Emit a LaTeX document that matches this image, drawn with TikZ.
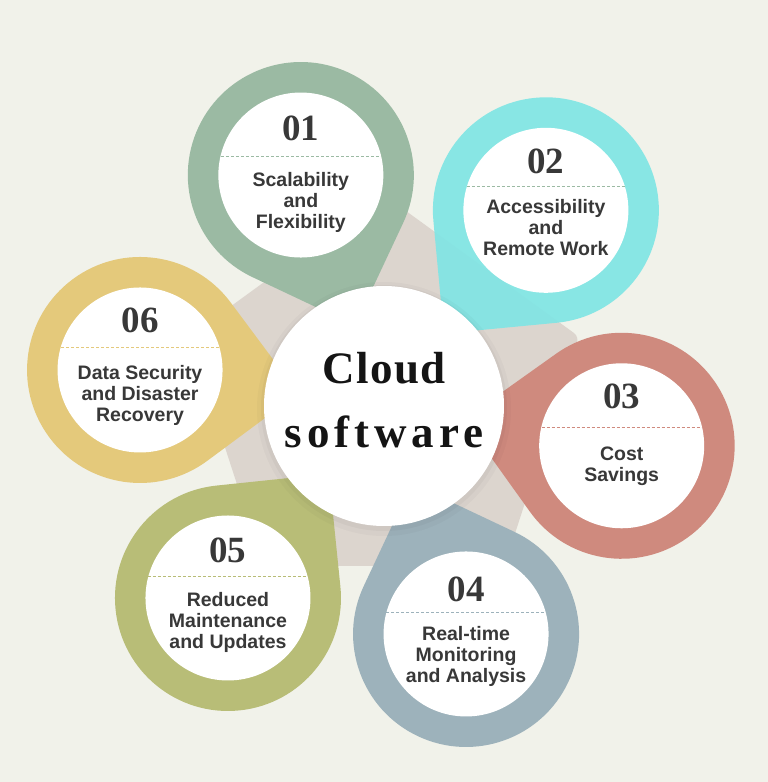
\documentclass[tikz,border=0pt]{standalone}
\usepackage{fontspec}
\setsansfont{Liberation Sans}
\newfontfamily\numfont{Liberation Serif}
\newfontfamily\titlefont[LetterSpace=3.5]{Liberation Serif}
\newfontfamily\titlefontwide[LetterSpace=11]{Liberation Serif}
\usetikzlibrary{calc}
\definecolor{PageBg}{HTML}{F1F2EA}
\definecolor{HubGrey}{HTML}{DCD5CE}
\definecolor{Ink}{HTML}{383838}
\definecolor{SageGreen}{HTML}{9BBAA3}
\definecolor{AquaCyan}{HTML}{80E5E4}
\definecolor{ClayRed}{HTML}{CF8A7E}
\definecolor{SlateBlue}{HTML}{9DB2BB}
\definecolor{OliveGreen}{HTML}{B8BD77}
\definecolor{MustardYellow}{HTML}{E4C97B}

\begin{document}
\begin{tikzpicture}[
  x=1pt,y=1pt,
  every node/.style={inner sep=0pt},
  hub/.style={circle,fill=white,minimum size=240pt},
  inner/.style={circle,fill=white,minimum size=165pt},
  num/.style={text=Ink,font=\numfont\bfseries\fontsize{37}{37}\selectfont},
  topic/.style={anchor=north,align=center,text=Ink,font=\sffamily\bfseries\fontsize{19.5}{21}\selectfont},
  divider/.style={dash pattern=on 3pt off 2pt,line width=1pt},
  title/.style={anchor=base,text=black!92}
]
% page and grey pentagon behind the pins
\fill[PageBg] (-384,-376) rectangle (384,406);
\fill[HubGrey,rounded corners=6pt] ($(0,6)+(90:205pt)$) -- ($(0,6)+(18:205pt)$) -- ($(0,6)+(-54:205pt)$)
  -- ($(0,6)+(-126:205pt)$) -- ($(0,6)+(162:205pt)$) -- cycle;

% 01
\fill[SageGreen] (109.8:85.5pt) -- ($(109.8:245.5pt)+(-25.2:113pt)$) arc[start angle=-25.2,delta angle=270,radius=113pt] -- cycle;
\node[inner] (c01) at (109.8:245.5pt) {};
\node[num,yshift=47pt] (n01) at (c01) {01};
\draw[divider,SageGreen] ($(c01)+(-80,19)$) -- ($(c01)+(80,19)$);
\node[topic,yshift=3pt] (t01) at (c01) {Scalability\\and\\Flexibility};

% 02
\fill[AquaCyan,fill opacity=.92] (50.4:94pt) -- ($(50.4:254pt)+(-84.6:113pt)$) arc[start angle=-84.6,delta angle=270,radius=113pt] -- cycle;
\node[inner] (c02) at (50.4:254pt) {};
\node[num,yshift=49pt] (n02) at (c02) {02};
\draw[divider,SageGreen] ($(c02)+(-79,24)$) -- ($(c02)+(79,24)$);
\node[topic,yshift=11pt] (t02) at (c02) {Accessibility\\and\\Remote Work};

% 03
\fill[ClayRed] (-9.5:81pt) -- ($(-9.5:241pt)+(-144.5:113pt)$) arc[start angle=-144.5,delta angle=270,radius=113pt] -- cycle;
\node[inner] (c03) at (-9.5:241pt) {};
\node[num,yshift=49pt] (n03) at (c03) {03};
\draw[divider,ClayRed] ($(c03)+(-80,18)$) -- ($(c03)+(80,18)$);
\node[topic,yshift=-1pt] (t03) at (c03) {Cost\\Savings};

% 04
\fill[SlateBlue] (-70.2:82.3pt) -- ($(-70.2:242.3pt)+(-205.2:113pt)$) arc[start angle=-205.2,delta angle=270,radius=113pt] -- cycle;
\node[inner] (c04) at (-70.2:242.3pt) {};
\node[num,yshift=45pt] (n04) at (c04) {04};
\draw[divider,SlateBlue] ($(c04)+(-80,21)$) -- ($(c04)+(80,21)$);
\node[topic,yshift=8pt] (t04) at (c04) {Real-time\\Monitoring\\and Analysis};

% 05
\fill[OliveGreen] (-129.1:87.4pt) -- ($(-129.1:247.4pt)+(-264.1:113pt)$) arc[start angle=-264.1,delta angle=270,radius=113pt] -- cycle;
\node[inner] (c05) at (-129.1:247.4pt) {};
\node[num,yshift=48pt] (n05) at (c05) {05};
\draw[divider,OliveGreen] ($(c05)+(-80,21)$) -- ($(c05)+(80,21)$);
\node[topic,yshift=6pt] (t05) at (c05) {Reduced\\Maintenance\\and Updates};

% 06
\fill[MustardYellow] (171.6:86.6pt) -- ($(171.6:246.6pt)+(36.6:113pt)$) arc[start angle=36.6,delta angle=270,radius=113pt] -- cycle;
\node[inner] (c06) at (171.6:246.6pt) {};
\node[num,yshift=50pt] (n06) at (c06) {06};
\draw[divider,MustardYellow] ($(c06)+(-79,22)$) -- ($(c06)+(79,22)$);
\node[topic,yshift=5pt] (t06) at (c06) {Data Security\\and Disaster\\Recovery};

% centre
\fill[black,opacity=.025] (0,-3) circle (127pt);
\fill[black,opacity=.03] (0,-2) circle (123pt);
\node[hub] (hub) at (0,0) {};
\node[title,font=\titlefont\bfseries\fontsize{45}{45}\selectfont] (cloud) at (0,23) {Cloud};
\node[title,font=\titlefontwide\bfseries\fontsize{45}{45}\selectfont] (soft) at (0,-41) {software};
\end{tikzpicture}
\end{document}
